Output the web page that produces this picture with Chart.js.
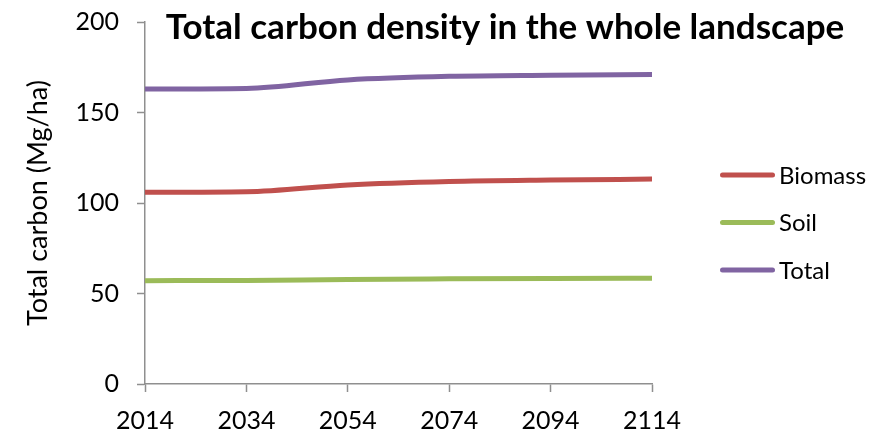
<!DOCTYPE html>
<html>
<head>
<meta charset="utf-8">
<script src="https://cdn.jsdelivr.net/npm/chart.js@4.4.1/dist/chart.umd.min.js"></script>
<style>
  html, body { margin: 0; padding: 0; background: #fff; }
  #wrap { width: 894px; height: 435px; position: relative; }
</style>
</head>
<body>
<div id="wrap"><canvas id="c"></canvas></div>
<script>
// Carbon density (Mg/ha) across the landscape, simulated every 20 years
const years   = [2014, 2034, 2054, 2074, 2094, 2114];
const biomass = [105.9, 106.2, 110.0, 111.9, 112.7, 113.2];
const soil    = [57.1, 57.2, 57.8, 58.1, 58.3, 58.4];
const total   = [163.0, 163.3, 168.0, 170.0, 170.6, 171.0];

const xTicks = [2014, 2034, 2054, 2074, 2094, 2114];
const yTicks = [0, 50, 100, 150, 200];

const seriesNames  = ['Biomass', 'Soil', 'Total'];
const seriesColors = ['#C0504D', '#9BBB59', '#8064A2'];

const chartTitle = 'Total carbon density in the whole landscape';
const yAxisTitle = 'Total carbon (Mg/ha)';

const FONT = 'Lato, "Open Sans", sans-serif';
const AXIS_COLOR = '#8f8f8f';

const toPoints = vals => vals.map((v, i) => ({ x: years[i], y: v }));

// Title drawn over the top of the plot
const titlePlugin = {
  id: 'overlayTitle',
  afterDraw(chart) {
    const { ctx, chartArea } = chart;
    ctx.save();
    ctx.font = 'bold 35px ' + FONT;
    ctx.fillStyle = '#000';
    ctx.textAlign = 'center';
    ctx.textBaseline = 'alphabetic';
    ctx.fillText(chartTitle, chartArea.left + 360, 39);
    ctx.restore();
  }
};

// Legend on the right: short thick line followed by the series name
const sideLegendPlugin = {
  id: 'sideLegend',
  afterDraw(chart) {
    const { ctx, chartArea } = chart;
    const x0 = chartArea.right + 68;
    const lineLen = 55;
    const gap = 47.5;
    const y0 = 175;
    ctx.save();
    chart.data.datasets.forEach((ds, i) => {
      const y = y0 + i * gap;
      ctx.strokeStyle = ds.borderColor;
      ctx.lineWidth = 5;
      ctx.lineCap = 'round';
      ctx.beginPath();
      ctx.moveTo(x0 + 2.5, y);
      ctx.lineTo(x0 + lineLen - 2.5, y);
      ctx.stroke();
      ctx.fillStyle = '#000';
      ctx.font = '24px ' + FONT;
      ctx.textAlign = 'left';
      ctx.textBaseline = 'middle';
      ctx.fillText(ds.label, x0 + lineLen + 4, y + 1);
    });
    ctx.restore();
  }
};

const seriesValues = [biomass, soil, total];

new Chart(document.getElementById('c'), {
  type: 'line',
  data: {
    datasets: seriesNames.map((name, i) => ({
      label: name,
      data: toPoints(seriesValues[i]),
      borderColor: seriesColors[i],
      backgroundColor: seriesColors[i],
      borderWidth: 5,
      pointRadius: 0,
      cubicInterpolationMode: 'monotone',
      fill: false
    }))
  },
  options: {
    responsive: true,
    maintainAspectRatio: false,
    animation: false,
    layout: { autoPadding: false, padding: { top: 22, right: 242, bottom: 0, left: 0 } },
    plugins: {
      legend: { display: false },
      title: { display: false },
      tooltip: { enabled: false }
    },
    scales: {
      x: {
        type: 'linear',
        min: xTicks[0],
        max: xTicks[xTicks.length - 1],
        afterBuildTicks: s => { s.ticks = xTicks.map(v => ({ value: v })); },
        afterFit: s => { s.height = 51; s.paddingLeft = 0; s.paddingRight = 0; },
        ticks: {
          color: '#000',
          font: { family: FONT, size: 25 },
          padding: 14,
          maxRotation: 0,
          autoSkip: false,
          callback: v => String(v)
        },
        grid: {
          drawOnChartArea: false,
          drawTicks: true,
          tickLength: 8,
          tickWidth: 1.5,
          tickColor: AXIS_COLOR
        },
        border: { display: true, color: AXIS_COLOR, width: 1.5 }
      },
      y: {
        min: yTicks[0],
        max: yTicks[yTicks.length - 1],
        afterBuildTicks: s => { s.ticks = yTicks.map(v => ({ value: v })); },
        afterFit: s => { s.width = 145; s.paddingTop = 0; s.paddingBottom = 0; },
        ticks: {
          color: '#000',
          font: { family: FONT, size: 25 },
          padding: 18,
          callback: v => String(v)
        },
        grid: {
          drawOnChartArea: false,
          drawTicks: true,
          tickLength: 8,
          tickWidth: 1.5,
          tickColor: AXIS_COLOR
        },
        border: { display: true, color: AXIS_COLOR, width: 1.5 },
        title: {
          display: true,
          text: yAxisTitle,
          color: '#000',
          font: { family: FONT, size: 27 },
          padding: { top: 22, bottom: 0 }
        }
      }
    }
  },
  plugins: [titlePlugin, sideLegendPlugin]
});
</script>
</body>
</html>
